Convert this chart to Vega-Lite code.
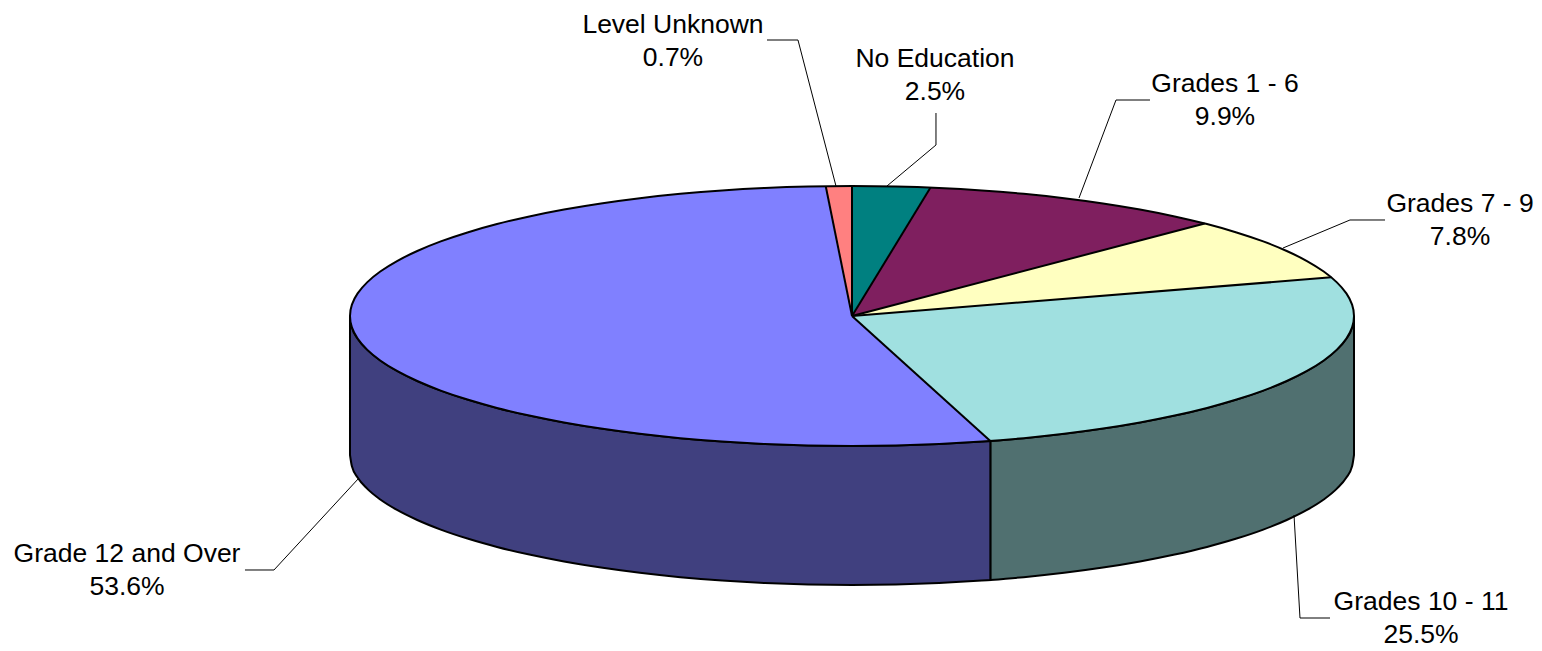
{"$schema":"https://vega.github.io/schema/vega-lite/v6.json","width":1542,"height":651,"autosize":{"type":"fit","contains":"padding"},"padding":0,"background":"white","view":{"stroke":null},
"datasets":{
"walls":[
{"slice":"Grades 10 - 11 side","u":1,"v":0,"v2":-1.0692},{"slice":"Grades 10 - 11 side","u":0.9962,"v":-0.0872,"v2":-1.1564},{"slice":"Grades 10 - 11 side","u":0.9848,"v":-0.1736,"v2":-1.2428},{"slice":"Grades 10 - 11 side","u":0.9659,"v":-0.2588,"v2":-1.328},{"slice":"Grades 10 - 11 side","u":0.9397,"v":-0.342,"v2":-1.4112},{"slice":"Grades 10 - 11 side","u":0.9063,"v":-0.4226,"v2":-1.4918},{"slice":"Grades 10 - 11 side","u":0.866,"v":-0.5,"v2":-1.5692},{"slice":"Grades 10 - 11 side","u":0.8192,"v":-0.5736,"v2":-1.6428},{"slice":"Grades 10 - 11 side","u":0.766,"v":-0.6428,"v2":-1.712},{"slice":"Grades 10 - 11 side","u":0.7071,"v":-0.7071,"v2":-1.7763},{"slice":"Grades 10 - 11 side","u":0.6428,"v":-0.766,"v2":-1.8352},{"slice":"Grades 10 - 11 side","u":0.5736,"v":-0.8192,"v2":-1.8884},{"slice":"Grades 10 - 11 side","u":0.5,"v":-0.866,"v2":-1.9352},{"slice":"Grades 10 - 11 side","u":0.4226,"v":-0.9063,"v2":-1.9755},{"slice":"Grades 10 - 11 side","u":0.342,"v":-0.9397,"v2":-2.0089},{"slice":"Grades 10 - 11 side","u":0.2756,"v":-0.9613,"v2":-2.0305},
{"slice":"Grade 12 and Over side","u":0.2756,"v":-0.9613,"v2":-2.0305},{"slice":"Grade 12 and Over side","u":0.2588,"v":-0.9659,"v2":-2.0351},{"slice":"Grade 12 and Over side","u":0.1736,"v":-0.9848,"v2":-2.054},{"slice":"Grade 12 and Over side","u":0.0872,"v":-0.9962,"v2":-2.0654},{"slice":"Grade 12 and Over side","u":0,"v":-1,"v2":-2.0692},{"slice":"Grade 12 and Over side","u":-0.0872,"v":-0.9962,"v2":-2.0654},{"slice":"Grade 12 and Over side","u":-0.1736,"v":-0.9848,"v2":-2.054},{"slice":"Grade 12 and Over side","u":-0.2588,"v":-0.9659,"v2":-2.0351},{"slice":"Grade 12 and Over side","u":-0.342,"v":-0.9397,"v2":-2.0089},{"slice":"Grade 12 and Over side","u":-0.4226,"v":-0.9063,"v2":-1.9755},{"slice":"Grade 12 and Over side","u":-0.5,"v":-0.866,"v2":-1.9352},{"slice":"Grade 12 and Over side","u":-0.5736,"v":-0.8192,"v2":-1.8884},{"slice":"Grade 12 and Over side","u":-0.6428,"v":-0.766,"v2":-1.8352},{"slice":"Grade 12 and Over side","u":-0.7071,"v":-0.7071,"v2":-1.7763},{"slice":"Grade 12 and Over side","u":-0.766,"v":-0.6428,"v2":-1.712},{"slice":"Grade 12 and Over side","u":-0.8192,"v":-0.5736,"v2":-1.6428},{"slice":"Grade 12 and Over side","u":-0.866,"v":-0.5,"v2":-1.5692},{"slice":"Grade 12 and Over side","u":-0.9063,"v":-0.4226,"v2":-1.4918},{"slice":"Grade 12 and Over side","u":-0.9397,"v":-0.342,"v2":-1.4112},{"slice":"Grade 12 and Over side","u":-0.9659,"v":-0.2588,"v2":-1.328},{"slice":"Grade 12 and Over side","u":-0.9848,"v":-0.1736,"v2":-1.2428},{"slice":"Grade 12 and Over side","u":-0.9962,"v":-0.0872,"v2":-1.1564},{"slice":"Grade 12 and Over side","u":-1,"v":0,"v2":-1.0692}
],
"tops":[
{"slice":"No Education","i":0,"u":0,"v":0},{"slice":"No Education","i":1,"u":0,"v":1},{"slice":"No Education","i":2,"u":0.0872,"v":0.9962},{"slice":"No Education","i":3,"u":0.1564,"v":0.9877},{"slice":"No Education","i":4,"u":0,"v":0},
{"slice":"Grades 1 - 6","i":0,"u":0,"v":0},{"slice":"Grades 1 - 6","i":1,"u":0.1564,"v":0.9877},{"slice":"Grades 1 - 6","i":2,"u":0.1736,"v":0.9848},{"slice":"Grades 1 - 6","i":3,"u":0.2588,"v":0.9659},{"slice":"Grades 1 - 6","i":4,"u":0.342,"v":0.9397},{"slice":"Grades 1 - 6","i":5,"u":0.4226,"v":0.9063},{"slice":"Grades 1 - 6","i":6,"u":0.5,"v":0.866},{"slice":"Grades 1 - 6","i":7,"u":0.5736,"v":0.8192},{"slice":"Grades 1 - 6","i":8,"u":0.6428,"v":0.766},{"slice":"Grades 1 - 6","i":9,"u":0.7026,"v":0.7116},{"slice":"Grades 1 - 6","i":10,"u":0,"v":0},
{"slice":"Grades 7 - 9","i":0,"u":0,"v":0},{"slice":"Grades 7 - 9","i":1,"u":0.7026,"v":0.7116},{"slice":"Grades 7 - 9","i":2,"u":0.766,"v":0.6428},{"slice":"Grades 7 - 9","i":3,"u":0.8192,"v":0.5736},{"slice":"Grades 7 - 9","i":4,"u":0.866,"v":0.5},{"slice":"Grades 7 - 9","i":5,"u":0.9063,"v":0.4226},{"slice":"Grades 7 - 9","i":6,"u":0.9397,"v":0.342},{"slice":"Grades 7 - 9","i":7,"u":0.9548,"v":0.2974},{"slice":"Grades 7 - 9","i":8,"u":0,"v":0},
{"slice":"Grades 10 - 11","i":0,"u":0,"v":0},{"slice":"Grades 10 - 11","i":1,"u":0.9548,"v":0.2974},{"slice":"Grades 10 - 11","i":2,"u":0.9659,"v":0.2588},{"slice":"Grades 10 - 11","i":3,"u":0.9848,"v":0.1736},{"slice":"Grades 10 - 11","i":4,"u":0.9962,"v":0.0872},{"slice":"Grades 10 - 11","i":5,"u":1,"v":0},{"slice":"Grades 10 - 11","i":6,"u":0.9962,"v":-0.0872},{"slice":"Grades 10 - 11","i":7,"u":0.9848,"v":-0.1736},{"slice":"Grades 10 - 11","i":8,"u":0.9659,"v":-0.2588},{"slice":"Grades 10 - 11","i":9,"u":0.9397,"v":-0.342},{"slice":"Grades 10 - 11","i":10,"u":0.9063,"v":-0.4226},{"slice":"Grades 10 - 11","i":11,"u":0.866,"v":-0.5},{"slice":"Grades 10 - 11","i":12,"u":0.8192,"v":-0.5736},{"slice":"Grades 10 - 11","i":13,"u":0.766,"v":-0.6428},{"slice":"Grades 10 - 11","i":14,"u":0.7071,"v":-0.7071},{"slice":"Grades 10 - 11","i":15,"u":0.6428,"v":-0.766},{"slice":"Grades 10 - 11","i":16,"u":0.5736,"v":-0.8192},{"slice":"Grades 10 - 11","i":17,"u":0.5,"v":-0.866},{"slice":"Grades 10 - 11","i":18,"u":0.4226,"v":-0.9063},{"slice":"Grades 10 - 11","i":19,"u":0.342,"v":-0.9397},{"slice":"Grades 10 - 11","i":20,"u":0.2756,"v":-0.9613},{"slice":"Grades 10 - 11","i":21,"u":0,"v":0},
{"slice":"Grade 12 and Over","i":0,"u":0,"v":0},{"slice":"Grade 12 and Over","i":1,"u":0.2756,"v":-0.9613},{"slice":"Grade 12 and Over","i":2,"u":0.2588,"v":-0.9659},{"slice":"Grade 12 and Over","i":3,"u":0.1736,"v":-0.9848},{"slice":"Grade 12 and Over","i":4,"u":0.0872,"v":-0.9962},{"slice":"Grade 12 and Over","i":5,"u":0,"v":-1},{"slice":"Grade 12 and Over","i":6,"u":-0.0872,"v":-0.9962},{"slice":"Grade 12 and Over","i":7,"u":-0.1736,"v":-0.9848},{"slice":"Grade 12 and Over","i":8,"u":-0.2588,"v":-0.9659},{"slice":"Grade 12 and Over","i":9,"u":-0.342,"v":-0.9397},{"slice":"Grade 12 and Over","i":10,"u":-0.4226,"v":-0.9063},{"slice":"Grade 12 and Over","i":11,"u":-0.5,"v":-0.866},{"slice":"Grade 12 and Over","i":12,"u":-0.5736,"v":-0.8192},{"slice":"Grade 12 and Over","i":13,"u":-0.6428,"v":-0.766},{"slice":"Grade 12 and Over","i":14,"u":-0.7071,"v":-0.7071},{"slice":"Grade 12 and Over","i":15,"u":-0.766,"v":-0.6428},{"slice":"Grade 12 and Over","i":16,"u":-0.8192,"v":-0.5736},{"slice":"Grade 12 and Over","i":17,"u":-0.866,"v":-0.5},{"slice":"Grade 12 and Over","i":18,"u":-0.9063,"v":-0.4226},{"slice":"Grade 12 and Over","i":19,"u":-0.9397,"v":-0.342},{"slice":"Grade 12 and Over","i":20,"u":-0.9659,"v":-0.2588},{"slice":"Grade 12 and Over","i":21,"u":-0.9848,"v":-0.1736},{"slice":"Grade 12 and Over","i":22,"u":-0.9962,"v":-0.0872},{"slice":"Grade 12 and Over","i":23,"u":-1,"v":0},{"slice":"Grade 12 and Over","i":24,"u":-0.9962,"v":0.0872},{"slice":"Grade 12 and Over","i":25,"u":-0.9848,"v":0.1736},{"slice":"Grade 12 and Over","i":26,"u":-0.9659,"v":0.2588},{"slice":"Grade 12 and Over","i":27,"u":-0.9397,"v":0.342},{"slice":"Grade 12 and Over","i":28,"u":-0.9063,"v":0.4226},{"slice":"Grade 12 and Over","i":29,"u":-0.866,"v":0.5},{"slice":"Grade 12 and Over","i":30,"u":-0.8192,"v":0.5736},{"slice":"Grade 12 and Over","i":31,"u":-0.766,"v":0.6428},{"slice":"Grade 12 and Over","i":32,"u":-0.7071,"v":0.7071},{"slice":"Grade 12 and Over","i":33,"u":-0.6428,"v":0.766},{"slice":"Grade 12 and Over","i":34,"u":-0.5736,"v":0.8192},{"slice":"Grade 12 and Over","i":35,"u":-0.5,"v":0.866},{"slice":"Grade 12 and Over","i":36,"u":-0.4226,"v":0.9063},{"slice":"Grade 12 and Over","i":37,"u":-0.342,"v":0.9397},{"slice":"Grade 12 and Over","i":38,"u":-0.2588,"v":0.9659},{"slice":"Grade 12 and Over","i":39,"u":-0.1736,"v":0.9848},{"slice":"Grade 12 and Over","i":40,"u":-0.0872,"v":0.9962},{"slice":"Grade 12 and Over","i":41,"u":-0.0523,"v":0.9986},{"slice":"Grade 12 and Over","i":42,"u":0,"v":0},
{"slice":"Level Unknown","i":0,"u":0,"v":0},{"slice":"Level Unknown","i":1,"u":-0.0523,"v":0.9986},{"slice":"Level Unknown","i":2,"u":0,"v":1},{"slice":"Level Unknown","i":3,"u":0,"v":0}
],
"rim":[
{"t":0,"u":1,"v":0},{"t":5,"u":0.9962,"v":0.0872},{"t":10,"u":0.9848,"v":0.1736},{"t":15,"u":0.9659,"v":0.2588},{"t":20,"u":0.9397,"v":0.342},{"t":25,"u":0.9063,"v":0.4226},{"t":30,"u":0.866,"v":0.5},{"t":35,"u":0.8192,"v":0.5736},{"t":40,"u":0.766,"v":0.6428},{"t":45,"u":0.7071,"v":0.7071},{"t":50,"u":0.6428,"v":0.766},{"t":55,"u":0.5736,"v":0.8192},{"t":60,"u":0.5,"v":0.866},{"t":65,"u":0.4226,"v":0.9063},{"t":70,"u":0.342,"v":0.9397},{"t":75,"u":0.2588,"v":0.9659},{"t":80,"u":0.1736,"v":0.9848},{"t":85,"u":0.0872,"v":0.9962},
{"t":90,"u":0,"v":1},{"t":95,"u":-0.0872,"v":0.9962},{"t":100,"u":-0.1736,"v":0.9848},{"t":105,"u":-0.2588,"v":0.9659},{"t":110,"u":-0.342,"v":0.9397},{"t":115,"u":-0.4226,"v":0.9063},{"t":120,"u":-0.5,"v":0.866},{"t":125,"u":-0.5736,"v":0.8192},{"t":130,"u":-0.6428,"v":0.766},{"t":135,"u":-0.7071,"v":0.7071},{"t":140,"u":-0.766,"v":0.6428},{"t":145,"u":-0.8192,"v":0.5736},{"t":150,"u":-0.866,"v":0.5},{"t":155,"u":-0.9063,"v":0.4226},{"t":160,"u":-0.9397,"v":0.342},{"t":165,"u":-0.9659,"v":0.2588},{"t":170,"u":-0.9848,"v":0.1736},{"t":175,"u":-0.9962,"v":0.0872},
{"t":180,"u":-1,"v":0},{"t":185,"u":-0.9962,"v":-0.0872},{"t":190,"u":-0.9848,"v":-0.1736},{"t":195,"u":-0.9659,"v":-0.2588},{"t":200,"u":-0.9397,"v":-0.342},{"t":205,"u":-0.9063,"v":-0.4226},{"t":210,"u":-0.866,"v":-0.5},{"t":215,"u":-0.8192,"v":-0.5736},{"t":220,"u":-0.766,"v":-0.6428},{"t":225,"u":-0.7071,"v":-0.7071},{"t":230,"u":-0.6428,"v":-0.766},{"t":235,"u":-0.5736,"v":-0.8192},{"t":240,"u":-0.5,"v":-0.866},{"t":245,"u":-0.4226,"v":-0.9063},{"t":250,"u":-0.342,"v":-0.9397},{"t":255,"u":-0.2588,"v":-0.9659},{"t":260,"u":-0.1736,"v":-0.9848},{"t":265,"u":-0.0872,"v":-0.9962},
{"t":270,"u":0,"v":-1},{"t":275,"u":0.0872,"v":-0.9962},{"t":280,"u":0.1736,"v":-0.9848},{"t":285,"u":0.2588,"v":-0.9659},{"t":290,"u":0.342,"v":-0.9397},{"t":295,"u":0.4226,"v":-0.9063},{"t":300,"u":0.5,"v":-0.866},{"t":305,"u":0.5736,"v":-0.8192},{"t":310,"u":0.6428,"v":-0.766},{"t":315,"u":0.7071,"v":-0.7071},{"t":320,"u":0.766,"v":-0.6428},{"t":325,"u":0.8192,"v":-0.5736},{"t":330,"u":0.866,"v":-0.5},{"t":335,"u":0.9063,"v":-0.4226},{"t":340,"u":0.9397,"v":-0.342},{"t":345,"u":0.9659,"v":-0.2588},{"t":350,"u":0.9848,"v":-0.1736},{"t":355,"u":0.9962,"v":-0.0872}
],
"spokes":[
{"slice":"a","i":0,"u":0,"v":1},{"slice":"a","i":1,"u":0,"v":0},
{"slice":"b","i":0,"u":0.1564,"v":0.9877},{"slice":"b","i":1,"u":0,"v":0},
{"slice":"c","i":0,"u":0.7026,"v":0.7116},{"slice":"c","i":1,"u":0,"v":0},
{"slice":"d","i":0,"u":0.9548,"v":0.2974},{"slice":"d","i":1,"u":0,"v":0},
{"slice":"e","i":0,"u":0.2756,"v":-0.9613},{"slice":"e","i":1,"u":0,"v":0},
{"slice":"f","i":0,"u":-0.0523,"v":0.9986},{"slice":"f","i":1,"u":0,"v":0}
],
"leaders":[
{"slice":"Level Unknown","i":0,"u":-0.1693,"v":2.1231},{"slice":"Level Unknown","i":1,"u":-0.1076,"v":2.1231},{"slice":"Level Unknown","i":2,"u":-0.0319,"v":1},
{"slice":"No Education","i":0,"u":0.1673,"v":1.5615},{"slice":"No Education","i":1,"u":0.1673,"v":1.3154},{"slice":"No Education","i":2,"u":0.0697,"v":1},
{"slice":"Grades 1 - 6","i":0,"u":0.5936,"v":1.6615},{"slice":"Grades 1 - 6","i":1,"u":0.5259,"v":1.6615},{"slice":"Grades 1 - 6","i":2,"u":0.4522,"v":0.9077},
{"slice":"Grades 7 - 9","i":0,"u":1.0618,"v":0.7385},{"slice":"Grades 7 - 9","i":1,"u":0.992,"v":0.7385},{"slice":"Grades 7 - 9","i":2,"u":0.8586,"v":0.5231},
{"slice":"Grades 10 - 11","i":0,"u":0.9522,"v":-2.3231},{"slice":"Grades 10 - 11","i":1,"u":0.8924,"v":-2.3231},{"slice":"Grades 10 - 11","i":2,"u":0.8805,"v":-1.5308},
{"slice":"Grade 12 and Over","i":0,"u":-1.2092,"v":-1.9538},{"slice":"Grade 12 and Over","i":1,"u":-1.1514,"v":-1.9538},{"slice":"Grade 12 and Over","i":2,"u":-0.9821,"v":-1.2462}
],
"labels":[
{"slice":"Level Unknown","share":0.007,"u":-0.3566,"v":2.119},
{"slice":"No Education","share":0.025,"u":0.1653,"v":1.858},
{"slice":"Grades 1 - 6","share":0.099,"u":0.743,"v":1.662},
{"slice":"Grades 7 - 9","share":0.078,"u":1.2112,"v":0.742},
{"slice":"Grades 10 - 11","share":0.255,"u":1.1335,"v":-2.319},
{"slice":"Grade 12 and Over","share":0.536,"u":-1.4442,"v":-1.95}
]},
"encoding":{
"x":{"field":"u","type":"quantitative","axis":null,"scale":{"domain":[-1.6972,1.3745],"nice":false,"zero":false}},
"y":{"field":"v","type":"quantitative","axis":null,"scale":{"domain":[-2.5769,2.4308],"nice":false,"zero":false}}
},
"layer":[
{"data":{"name":"walls"},"mark":{"type":"area","stroke":"black","strokeWidth":2,"opacity":1,"interpolate":"monotone"},"encoding":{"y2":{"field":"v2"},"fill":{"field":"slice","type":"nominal","legend":null,"scale":{"domain":["No Education","Grades 1 - 6","Grades 7 - 9","Grades 10 - 11","Grade 12 and Over","Level Unknown","Grades 10 - 11 side","Grade 12 and Over side"],"range":["#008080","#7F1F5F","#FFFFC0","#A0E0E0","#8080FF","#FF8080","#507070","#40407F"]}}}},
{"data":{"name":"tops"},"mark":{"type":"line","strokeWidth":0},"encoding":{"order":{"field":"i","type":"quantitative"},"detail":{"field":"slice"},"fill":{"field":"slice","type":"nominal","legend":null}}},
{"data":{"name":"rim"},"mark":{"type":"line","stroke":"black","strokeWidth":2,"interpolate":"cardinal-closed"},"encoding":{"order":{"field":"t","type":"quantitative"}}},
{"data":{"name":"spokes"},"mark":{"type":"line","stroke":"black","strokeWidth":2},"encoding":{"order":{"field":"i","type":"quantitative"},"detail":{"field":"slice"}}},
{"data":{"name":"leaders"},"mark":{"type":"line","stroke":"black","strokeWidth":1},"encoding":{"order":{"field":"i","type":"quantitative"},"detail":{"field":"slice"}}},
{"data":{"name":"labels"},"mark":{"type":"text","font":"Liberation Sans","fontSize":26.5,"baseline":"middle","align":"center","dy":-15.5,"color":"black"},"encoding":{"text":{"field":"slice","type":"nominal"}}},
{"data":{"name":"labels"},"mark":{"type":"text","font":"Liberation Sans","fontSize":26.5,"baseline":"middle","align":"center","dy":17.5,"color":"black"},"encoding":{"text":{"field":"share","type":"quantitative","format":".1%"}}}
]}
